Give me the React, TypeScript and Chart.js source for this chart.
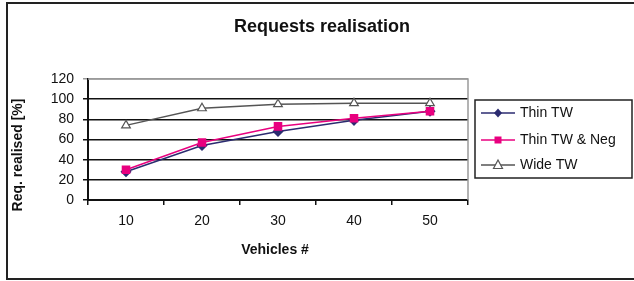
import React, { useEffect, useRef } from "react";
import { Chart, registerables } from "chart.js";

Chart.register(...registerables);

const categories = ["10", "20", "30", "40", "50"];
const thinTW = [28, 54, 68, 79, 88];
const thinTWNeg = [30, 57, 73, 81, 88];
const wideTW = [74, 91, 95, 96, 96];
const seriesNames = ["Thin TW", "Thin TW & Neg", "Wide TW"];
const chartTitle = "Requests realisation";
const xTitle = "Vehicles #";
const yTitle = "Req. realised [%]";

const FONT = "Arial, 'Liberation Sans', sans-serif";
const NAVY = "#2B2B70";
const PINK = "#E8007F";
const GRAY = "#555555";

function marker(ctx: CanvasRenderingContext2D, kind: string, x: number, y: number, color: string) {
  ctx.save();
  ctx.lineWidth = 1.2;
  ctx.strokeStyle = color;
  ctx.beginPath();
  if (kind === "diamond") {
    ctx.fillStyle = color;
    ctx.moveTo(x, y - 4.5);
    ctx.lineTo(x + 4, y);
    ctx.lineTo(x, y + 4.5);
    ctx.lineTo(x - 4, y);
    ctx.closePath();
    ctx.fill();
  } else if (kind === "square") {
    ctx.fillStyle = color;
    ctx.rect(x - 3.5, y - 3.5, 7, 7);
    ctx.fill();
  } else {
    ctx.fillStyle = "#fff";
    ctx.moveTo(x, y - 5);
    ctx.lineTo(x + 4.5, y + 3.5);
    ctx.lineTo(x - 4.5, y + 3.5);
    ctx.closePath();
    ctx.fill();
    ctx.stroke();
  }
  ctx.restore();
}

const decor = {
  id: "decor",
  beforeDatasetsDraw(chart: any) {
    const { ctx, chartArea } = chart;
    ctx.save();
    ctx.strokeStyle = "#9a9a9a";
    ctx.lineWidth = 1.5;
    ctx.beginPath();
    ctx.moveTo(chartArea.left, chartArea.top);
    ctx.lineTo(chartArea.right, chartArea.top);
    ctx.lineTo(chartArea.right, chartArea.bottom);
    ctx.stroke();
    ctx.restore();
  },
  afterDraw(chart: any) {
    const { ctx, chartArea } = chart;
    ctx.save();
    // outer frame
    ctx.strokeStyle = "#222";
    ctx.lineWidth = 2;
    ctx.beginPath();
    ctx.moveTo(634, 3);
    ctx.lineTo(7, 3);
    ctx.lineTo(7, 279);
    ctx.lineTo(634, 279);
    ctx.stroke();
    // titles
    ctx.fillStyle = "#111";
    ctx.textAlign = "center";
    ctx.textBaseline = "middle";
    ctx.font = `bold 18px ${FONT}`;
    ctx.fillText(chartTitle, 322, 27);
    ctx.font = `bold 14px ${FONT}`;
    ctx.fillText(xTitle, 275, 250);
    ctx.save();
    ctx.translate(18, 155);
    ctx.rotate(-Math.PI / 2);
    ctx.fillText(yTitle, 0, 0);
    ctx.restore();
    // legend
    const lx = 475, ly = 100, lw = 157, lh = 78;
    ctx.strokeStyle = "#222";
    ctx.lineWidth = 1.5;
    ctx.strokeRect(lx, ly, lw, lh);
    const colors = [NAVY, PINK, GRAY];
    const kinds = ["diamond", "square", "triangle"];
    const rows = [113, 140, 165];
    ctx.font = `14px ${FONT}`;
    ctx.textAlign = "left";
    for (let i = 0; i < 3; i++) {
      const y = rows[i];
      ctx.strokeStyle = colors[i];
      ctx.lineWidth = 1.5;
      ctx.beginPath();
      ctx.moveTo(481, y);
      ctx.lineTo(515, y);
      ctx.stroke();
      marker(ctx, kinds[i], 498, y, colors[i]);
      ctx.fillStyle = "#111";
      ctx.fillText(seriesNames[i], 520, y);
    }
    ctx.restore();
  },
};

export default function App() {
  const ref = useRef<HTMLCanvasElement | null>(null);
  useEffect(() => {
    if (!ref.current) return;
    const chart = new Chart(ref.current, {
      type: "line",
      data: {
        labels: categories,
        datasets: [
          {
            label: seriesNames[2],
            data: wideTW,
            borderColor: GRAY,
            backgroundColor: "#ffffff",
            borderWidth: 1.5,
            pointStyle: "triangle",
            pointRadius: 5,
            pointBorderWidth: 1.2,
            pointBorderColor: GRAY,
            pointBackgroundColor: "#ffffff",
            tension: 0,
          },
          {
            label: seriesNames[1],
            data: thinTWNeg,
            borderColor: PINK,
            backgroundColor: PINK,
            borderWidth: 1.5,
            pointStyle: "rect",
            pointRadius: 5,
            pointBackgroundColor: PINK,
            pointBorderColor: PINK,
            tension: 0,
          },
          {
            label: seriesNames[0],
            data: thinTW,
            borderColor: NAVY,
            backgroundColor: NAVY,
            borderWidth: 1.5,
            pointStyle: "rectRot",
            pointRadius: 4.5,
            pointBackgroundColor: NAVY,
            pointBorderColor: NAVY,
            tension: 0,
          },
        ],
      },
      options: {
        responsive: false,
        animation: false,
        layout: { padding: { left: 0, top: 79, right: 166, bottom: 0 } },
        plugins: {
          legend: { display: false },
          title: { display: false },
          tooltip: { enabled: false },
        },
        scales: {
          x: {
            type: "category",
            offset: true,
            grid: {
              offset: true,
              drawOnChartArea: false,
              drawTicks: true,
              tickLength: 5,
              color: "#111",
              lineWidth: 1.5,
            },
            border: { color: "#111", width: 2 },
            ticks: {
              font: { family: FONT, size: 14 },
              color: "#111",
              padding: 8,
              maxRotation: 0,
            },
            afterFit(scale: any) {
              scale.height = 81;
            },
          },
          y: {
            min: 0,
            max: 120,
            grid: {
              color: (c: any) => (c.tick && c.tick.value === 120 ? "#9a9a9a" : "#111"),
              lineWidth: 1.5,
              tickLength: 5,
              drawTicks: true,
            },
            border: { color: "#111", width: 2 },
            ticks: {
              stepSize: 20,
              font: { family: FONT, size: 14 },
              color: "#111",
              padding: 9,
            },
            afterFit(scale: any) {
              scale.width = 88;
            },
          },
        },
      },
      plugins: [decor],
    });
    return () => chart.destroy();
  }, []);
  return (
    <div style={{ position: "absolute", left: 0, top: 0, width: 634, height: 281, background: "#fff" }}>
      <canvas ref={ref} width={634} height={281} style={{ width: 634, height: 281, display: "block" }} />
    </div>
  );
}
